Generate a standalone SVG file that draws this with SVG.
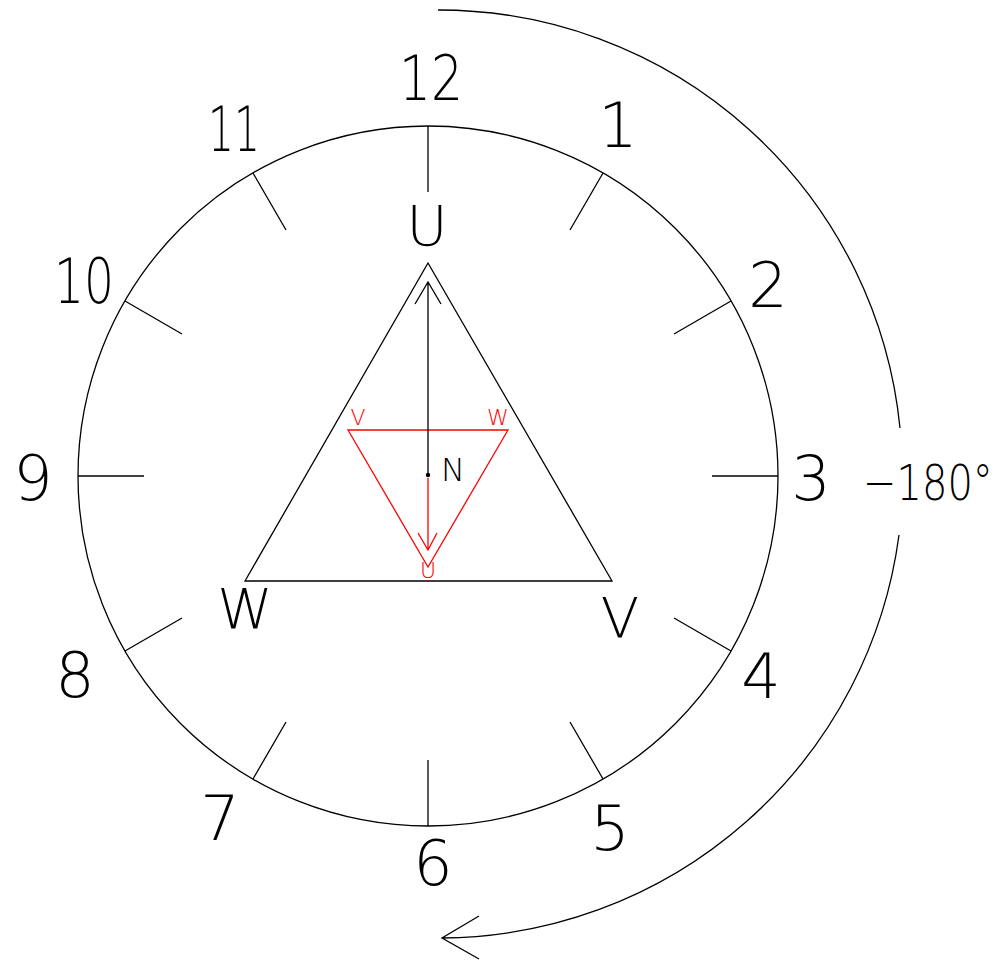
<svg xmlns="http://www.w3.org/2000/svg" width="999" height="963" viewBox="0 0 999 963">
<style>
.k{stroke:#000;stroke-width:1.3;fill:none}
.r{stroke:#ff0000;stroke-width:1.3;fill:none}
text{font-family:"DejaVu Sans","Liberation Sans",sans-serif;font-weight:200;text-anchor:middle}
.num{font-size:62px;fill:#000}
.lbl{font-size:56px;fill:#000}
.rl{font-size:22px;fill:#ff0000}
</style>
<rect width="999" height="963" fill="#fff"/>
<g id="dial">
<circle class="k" cx="428" cy="476" r="350"/>
<g class="k" id="ticks">
<line x1="428" y1="126" x2="428" y2="192"/>
<line x1="603" y1="173" x2="570" y2="230"/>
<line x1="731" y1="301" x2="674" y2="334"/>
<line x1="778" y1="476" x2="712" y2="476"/>
<line x1="731" y1="651" x2="674" y2="618"/>
<line x1="603" y1="779" x2="570" y2="722"/>
<line x1="428" y1="826" x2="428" y2="760"/>
<line x1="253" y1="779" x2="286" y2="722"/>
<line x1="125" y1="651" x2="182" y2="618"/>
<line x1="78" y1="476" x2="144" y2="476"/>
<line x1="125" y1="301" x2="182" y2="334"/>
<line x1="253" y1="173" x2="286" y2="230"/>
</g>
</g>
<g id="numbers" class="num">
<text x="431" y="100" textLength="64" lengthAdjust="spacingAndGlyphs">12</text>
<text x="618" y="147">1</text>
<text x="768" y="307">2</text>
<text x="811" y="500">3</text>
<text x="761" y="698">4</text>
<text x="610" y="850">5</text>
<text x="433" y="885">6</text>
<text x="220" y="840">7</text>
<text x="75" y="697">8</text>
<text x="33" y="500">9</text>
<text x="84" y="303" textLength="60" lengthAdjust="spacingAndGlyphs">10</text>
<text x="234" y="151" textLength="52" lengthAdjust="spacingAndGlyphs">11</text>
</g>
<g id="outer-triangle">
<polygon class="k" points="428,263 612,581 245,581"/>
<text class="lbl" x="427" y="245">U</text>
<text class="lbl" x="245" y="628">W</text>
<text class="lbl" x="620" y="637">V</text>
</g>
<g id="inner-triangle">
<polygon class="r" points="348,430 508,430 428,567"/>
<text class="rl" x="358" y="425">V</text>
<text class="rl" x="498" y="425">W</text>
<text class="rl" x="428" y="578">U</text>
</g>
<g id="center">
<circle cx="428" cy="475" r="2.2" fill="#000"/>
<text x="453" y="481" style="font-size:32px;fill:#000">N</text>
</g>
<g id="connectors">
<path class="k" d="M428,475 L428,282 M415,304 L428,282 L441,304"/>
<path class="r" d="M428,478 L428,550 M418,533 L428,550 L437,533"/>
<path class="k" d="M438,10 A464,464 0 0 1 900,428"/>
<path class="k" d="M899,535 A464,464 0 0 1 442,938 M479,916 L442,938 L479,959"/>
</g>
<g id="angle-label">
<text transform="translate(863,500) scale(1,1.25)" style="font-size:40px;fill:#000;text-anchor:start">−180°</text>
</g>
</svg>
